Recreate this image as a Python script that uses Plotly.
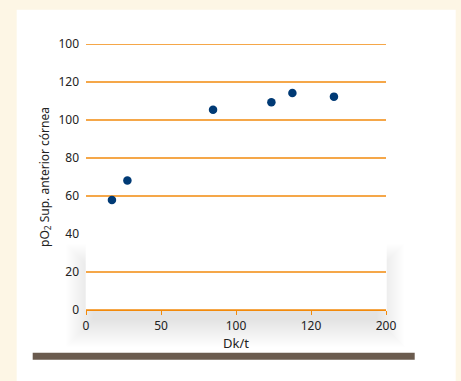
import plotly.graph_objects as go

# Data
dk_t = [17.3, 27.6, 84.7, 123.6, 137.6, 165.3]
po2 = [57.9, 68.2, 105.4, 109.3, 114.2, 112.3]

x_tickvals = [0, 50, 100, 150, 200]
x_ticktext = ["0", "50", "100", "120", "200"]
y_tickvals = [0, 20, 40, 60, 80, 100, 120, 140]
y_ticktext = ["0", "20", "40", "60", "80", "100", "120", "100"]
grid_vals = [0, 20, 60, 80, 100, 120, 140]

W, H = 461, 381
L, R, T, B = 86.3, 386.3, 44.3, 310.3
ORANGE = "#f28a0c"


def px(x):
    return (x - L) / (R - L)


def py(y):
    return (B - y) / (B - T)


shapes = []
# white panel
shapes.append(dict(type="rect", xref="paper", yref="paper", x0=px(17), x1=px(456), y0=py(10), y1=py(390),
                   fillcolor="white", line_width=0, layer="below"))
# soft shadow (stack of faint rectangles)
for i in range(28):
    e = 1.0 * i
    shapes.append(dict(type="rect", xref="paper", yref="paper",
                       x0=px(94 - e), x1=px(378 + e), y0=py(272 - e), y1=py(320 + e),
                       fillcolor="#a9aed0", opacity=0.016, line=dict(width=0), layer="below"))
# white card over the shadow
shapes.append(dict(type="rect", xref="paper", yref="paper", x0=px(86), x1=px(387), y0=py(200), y1=py(311),
                   fillcolor="white", line=dict(width=0), layer="below"))
# grid lines (the 40 line is hidden in the reference)
for v in grid_vals:
    shapes.append(dict(type="line", xref="paper", yref="y", x0=0, x1=1, y0=v, y1=v,
                       line=dict(color=ORANGE, width=1.3), layer="below"))
# brown bar
shapes.append(dict(type="rect", xref="paper", yref="paper", x0=px(33), x1=px(415), y0=py(353), y1=py(360),
                   fillcolor="#6a5b4e", line=dict(width=0), layer="below"))

fig = go.Figure(go.Scatter(x=dk_t, y=po2, mode="markers",
                           marker=dict(size=8.5, color="#003a75", line=dict(width=0)),
                           cliponaxis=False))

font = dict(family="Noto Sans", size=12, color="#222222")
fig.update_layout(
    width=W, height=H,
    margin=dict(l=L, r=W - R, t=T, b=H - B, pad=0),
    paper_bgcolor="#fdf6e5", plot_bgcolor="rgba(0,0,0,0)",
    showlegend=False, font=font, shapes=shapes,
    xaxis=dict(range=[0, 200], tickvals=x_tickvals, ticktext=x_ticktext, showgrid=False, zeroline=False,
               showline=True, linecolor=ORANGE, linewidth=1.3, ticks="outside", ticklen=4,
               tickcolor=ORANGE, tickwidth=1.3,
               title=dict(text="Dk/t", standoff=0, font=dict(size=13))),
    yaxis=dict(range=[0, 140], tickvals=y_tickvals, ticktext=y_ticktext, showgrid=False, zeroline=False,
               showline=False, ticks="", ticklabelstandoff=6,
               title=dict(text="pO<sub>2</sub> Sup. anterior córnea", standoff=6, font=dict(size=12))),
)

fig.write_html("out.html", config={"displayModeBar": False},
               post_script="document.body.style.margin='0px';document.body.style.overflow='hidden';")
